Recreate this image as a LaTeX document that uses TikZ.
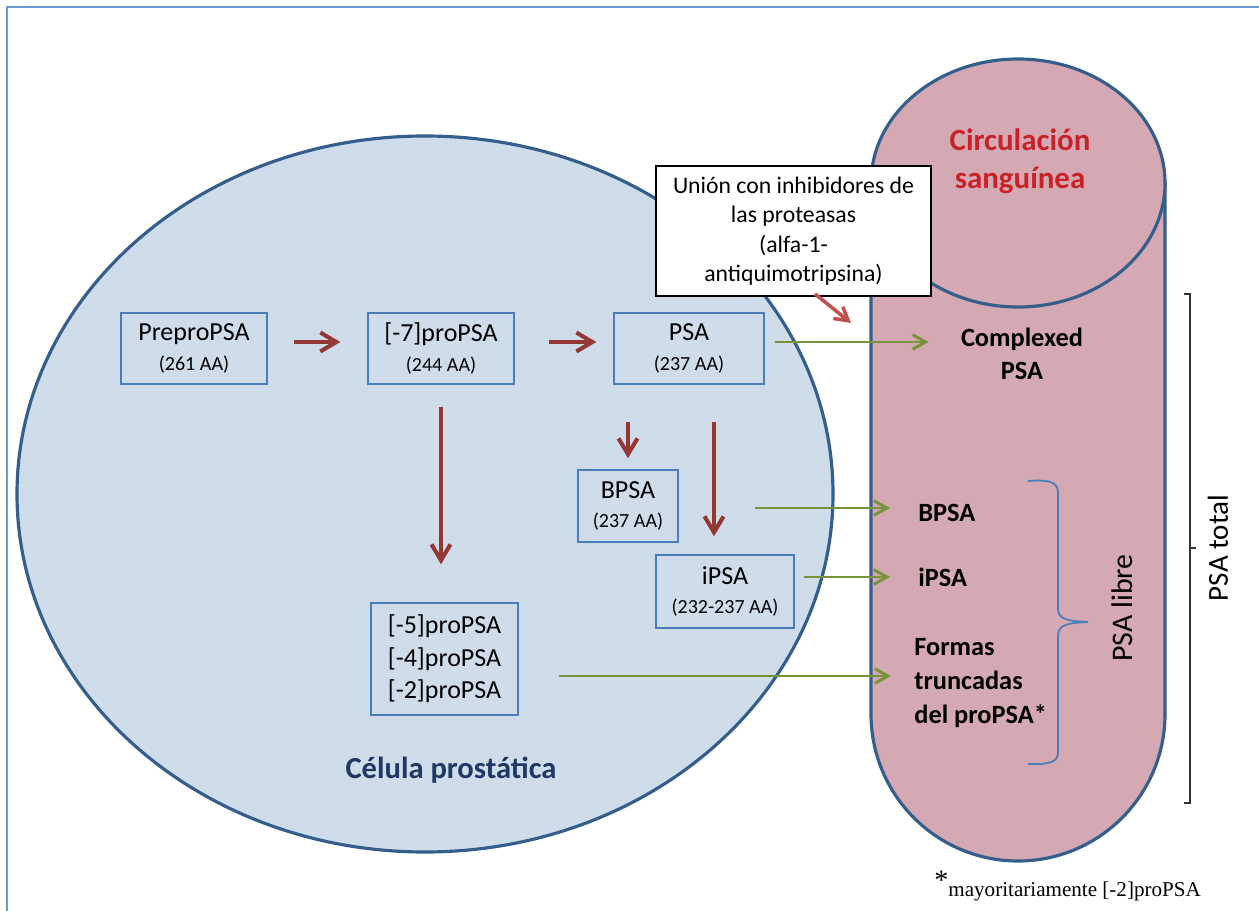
\documentclass[tikz,border=0pt]{standalone}
\usepackage{fontspec}
\setmainfont{Carlito}
\newfontfamily\timesfont{Liberation Serif}
\usetikzlibrary{arrows.meta}
\definecolor{cellfill}{RGB}{207,221,234}
\definecolor{bloodfill}{RGB}{213,169,179}
\definecolor{shapeline}{RGB}{52,94,139}
\definecolor{boxline}{RGB}{74,126,187}
\definecolor{darkred}{RGB}{149,55,53}
\definecolor{lightred}{RGB}{192,80,77}
\definecolor{olive}{RGB}{119,147,60}
\definecolor{framecol}{RGB}{106,155,208}
\definecolor{bloodred}{RGB}{200,34,40}
\definecolor{navy}{RGB}{31,56,100}
\newcommand{\aminos}[1]{{\fontsize{11.4}{13}\selectfont(#1 AA)}}
\tikzset{
  pbox/.style={draw=boxline, line width=0.8pt, inner sep=0pt, align=center, font=\fontsize{14.8}{17}\selectfont},
  redarr/.style={darkred, line width=2.3pt, -{Straight Barb[length=3.2mm,width=3.8mm]}},
  greenarr/.style={olive, line width=1.7pt, -{Straight Barb[length=2.6mm,width=2.9mm]}},
  lbl/.style={font=\fontsize{15}{18.8}\selectfont\bfseries, inner sep=0pt},
}
\begin{document}
\begin{tikzpicture}[x=0.2mm,y=-0.2mm]
    \useasboundingbox (0,0) rectangle (1259,911);
    \draw[framecol, line width=1.2pt] (7,911)--(7,7)--(1259,7);
    \draw[shapeline, fill=cellfill, line width=1.8pt] (425,494) ellipse [x radius=408, y radius=358];
    \draw[shapeline, fill=bloodfill, line width=1.8pt, rounded corners=29.4mm] (871,183)--(871,861)--(1165,861)--(1165,183);
    \draw[shapeline, fill=bloodfill, line width=1.8pt] (1018,183) ellipse [x radius=147, y radius=124];

    \node[pbox, minimum width=29.2mm, minimum height=14.2mm] (prepro) at (194,348.5) {PreproPSA\\\aminos{261}};
    \node[pbox, minimum width=29.2mm, minimum height=14.2mm] (pro7) at (441,348.5) {[-7]proPSA\\\aminos{244}};
    \node[pbox, minimum width=30mm, minimum height=14.2mm] (psa) at (689,348.5) {PSA\\\aminos{237}};
    \node[pbox, minimum width=20mm, minimum height=14.4mm] (bpsa) at (628,506) {BPSA\\\aminos{237}};
    \node[pbox, minimum width=27.6mm, minimum height=14.6mm] (ipsa) at (725,591.5) {iPSA\\\aminos{232-237}};
    \node[pbox, minimum width=29.4mm, minimum height=22.4mm, font=\fontsize{14.8}{18.5}\selectfont] (pro5) at (444.5,659) {[-5]proPSA\\{}[-4]proPSA\\{}[-2]proPSA};
    \node[font=\fontsize{17.4}{20}\selectfont\bfseries, text=navy] (cell) at (451,770) {Célula prostática};

    \node[font=\fontsize{17.6}{21.6}\selectfont\bfseries, text=bloodred, align=center] (blood) at (1020,161) {Circulación\\sanguínea};
    \node[lbl, align=center] (cplx) at (1022,354) {Complexed\\PSA};
    \node[lbl, anchor=west] (lblb) at (918,513) {BPSA};
    \node[lbl, anchor=west] (lbli) at (918,577) {iPSA};
    \node[lbl, anchor=west, align=left, font=\fontsize{15}{19.3}\selectfont\bfseries] (lblf) at (914,683) {Formas\\truncadas\\del proPSA*};
    \node[rotate=90, font=\fontsize{17}{20}\selectfont] (libre) at (1122,608) {PSA libre};
    \node[rotate=90, font=\fontsize{16.5}{20}\selectfont] (total) at (1218,548) {PSA total};

    \node[draw, fill=white, line width=1pt, minimum width=55mm, minimum height=26mm, align=center, font=\fontsize{13.5}{16.8}\selectfont] (inhib) at (793.5,231) {Unión con inhibidores de\\las proteasas\\(alfa-1-\\antiquimotripsina)};
    \coordinate (cplxtip) at (851,323);

    \draw[redarr, shorten <=5.2mm, shorten >=5.4mm] ([yshift=1.3mm]prepro.east)--([yshift=1.3mm]pro7.west);
    \draw[redarr, shorten <=6.8mm, shorten >=3.4mm] ([yshift=1.3mm]pro7.east)--([yshift=1.3mm]psa.west);
    \draw[redarr, shorten <=4.4mm, shorten >=7.6mm] (pro7.south)--(pro7.south |- pro5.north);
    \draw[redarr, shorten <=7.4mm, shorten >=2.2mm] (bpsa.north |- psa.south)--(bpsa.north);
    \draw[redarr, shorten <=7.4mm, shorten >=3.6mm] ([xshift=5mm]psa.south)--([xshift=5mm]psa.south |- ipsa.north);
    \draw[lightred, line width=2pt, -{Straight Barb[length=2.6mm,width=3mm]}] ([xshift=4.3mm,yshift=0.6mm]inhib.south)--(cplxtip);

    \draw[greenarr, shorten <=2mm, shorten >=6.4mm] ([yshift=1.3mm]psa.east)--([yshift=1.3mm]psa.east -| cplx.west);
    \draw[greenarr, shorten <=15.2mm, shorten >=5.6mm] ([yshift=1mm]bpsa.east |- lblb.west)--([yshift=1mm]lblb.west);
    \draw[greenarr, shorten <=1.8mm, shorten >=5.6mm] (ipsa.east |- lbli.west)--(lbli.west);
    \draw[greenarr, shorten <=8mm, shorten >=4.6mm] ([yshift=1.4mm]pro5.east |- lblf.west)--([yshift=1.4mm]lblf.west);

    \draw[boxline, line width=1pt] (1028,481) .. controls (1054,479) and (1058,484) .. (1058,494)--(1058,608)
        .. controls (1058,618) and (1064,621) .. (1088,622) .. controls (1064,623) and (1058,626) .. (1058,636)
        --(1058,752) .. controls (1058,760) and (1054,765) .. (1028,764);
    \draw[black!80, line width=0.8pt] (1184,294)--(1190,294)--(1190,803)--(1184,803);
    \draw[black!80, line width=0.8pt] (1190,548)--(1196,548);

    \node[anchor=base west, inner sep=0pt, font=\timesfont\fontsize{12}{14}\selectfont] (foot) at (934,896) {\raisebox{0.3em}{\fontsize{16}{16}\selectfont *}mayoritariamente [-2]proPSA};
\end{tikzpicture}
\end{document}
